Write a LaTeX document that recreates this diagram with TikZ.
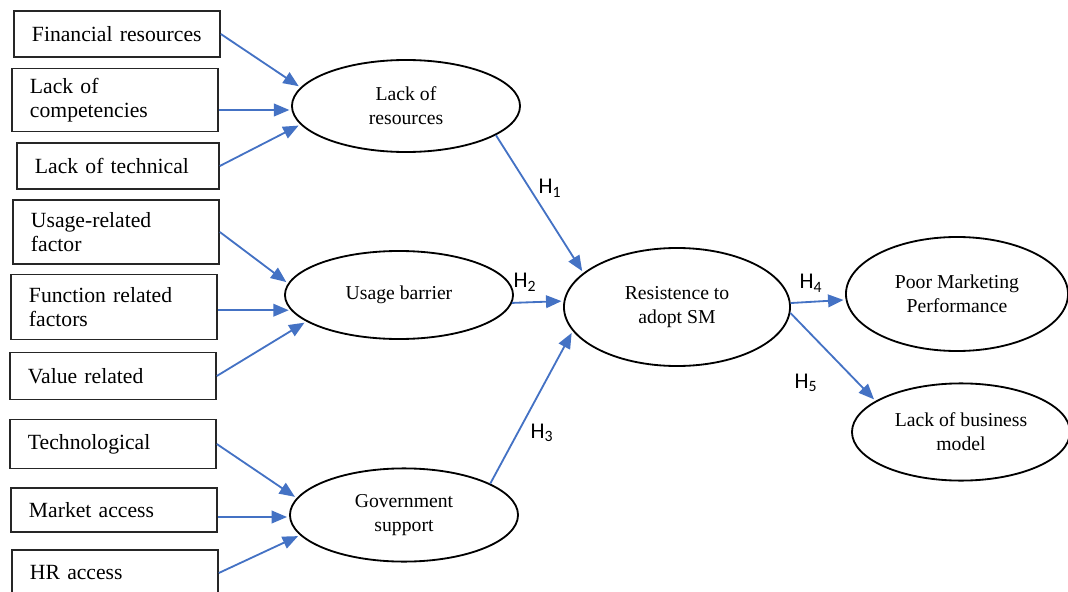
\documentclass[tikz,border=0pt]{standalone}
\usepackage{fontspec}
\setmainfont{Liberation Serif}
\newfontfamily\hfont{Carlito}
\usetikzlibrary{shapes, arrows.meta, positioning}
\definecolor{linkblue}{RGB}{68,114,196}
\tikzset{
  factor/.style={draw=black!85, line width=1.1pt, rectangle, align=left,
    text width=4.25cm, inner xsep=0.45cm, inner ysep=0pt,
    font=\fontsize{15.4}{17}\selectfont},
  construct/.style={draw, line width=1.3pt, ellipse, align=center, inner sep=0pt,
    font=\fontsize{14}{17}\selectfont},
  link/.style={draw=linkblue, line width=1.3pt, shorten >=1.5pt,
    -{Triangle[length=11pt,width=9pt]}},
  hyp/.style={font=\hfont\fontsize{16}{18}\selectfont}
}
\begin{document}
\begin{tikzpicture}[x=0.025cm, y=-0.025cm]
\useasboundingbox (0,0) rectangle (1068,592);

% Factor boxes
\node[factor, minimum height=1.15cm] (fin) at (117,34) {Financial resources};
\node[factor, minimum height=1.58cm] (comp) at (115,100) {Lack of\\competencies};
\node[factor, minimum height=1.15cm, text width=4.15cm] (tech) at (118,166) {Lack of technical};
\node[factor, minimum height=1.6cm] (usage) at (116,232) {Usage-related\\factor};
\node[factor, minimum height=1.62cm] (func) at (114,307) {Function related\\factors};
\node[factor, minimum height=1.18cm] (val) at (113,376) {Value related};
\node[factor, minimum height=1.22cm] (techno) at (113,444) {Technological};
\node[factor, minimum height=1.1cm] (mkt) at (114,510) {Market access};
\node[factor, minimum height=1.15cm] (hr) at (115,573) {HR access};

% Constructs
\node[construct, minimum width=5.7cm, minimum height=2.3cm] (lres) at (406,106) {Lack of\\resources};
\node[construct, minimum width=5.7cm, minimum height=2.2cm] (ubar) at (399,295) {Usage barrier};
\node[construct, minimum width=5.7cm, minimum height=2.33cm] (gov) at (404,515) {Government\\support};
\node[construct, minimum width=5.65cm, minimum height=2.95cm] (res) at (677,307) {Resistence to\\adopt SM};
\node[construct, minimum width=5.55cm, minimum height=2.85cm] (pmp) at (957,294) {Poor Marketing\\Performance};
\node[construct, minimum width=5.45cm, minimum height=2.43cm] (lbm) at (961,432) {Lack of business\\model};

% Inputs
\draw[link] (fin.east) -- (lres.170);
\draw[link] (comp.east |- lres.182) -- (lres.182);
\draw[link] (tech.east) -- (lres.190);
\draw[link] (usage.east) -- (ubar.174);
\draw[link] (func.east |- ubar.188) -- (ubar.188);
\draw[link] (val.east) -- (ubar.196);
\draw[link] (techno.east) -- (gov.171);
\draw[link] (mkt.east |- gov.181) -- (gov.181);
\draw[link] (hr.east) -- (gov.191);

% Hypotheses
\draw[link] (lres.342) -- (res.160);
\draw[link] (ubar.356) -- (res.177);
\draw[link] (gov.20) -- (res.193);
\draw[link] (res.2.5) -- (pmp.183.5);
\draw[link] (res.357) -- (lbm.160);

\node[hyp] (h1) at (550,188) {H\textsubscript{1}};
\node[hyp] (h2) at (525,282) {H\textsubscript{2}};
\node[hyp] (h3) at (542,433) {H\textsubscript{3}};
\node[hyp] (h4) at (811,283) {H\textsubscript{4}};
\node[hyp] (h5) at (806,383) {H\textsubscript{5}};

\end{tikzpicture}
\end{document}
